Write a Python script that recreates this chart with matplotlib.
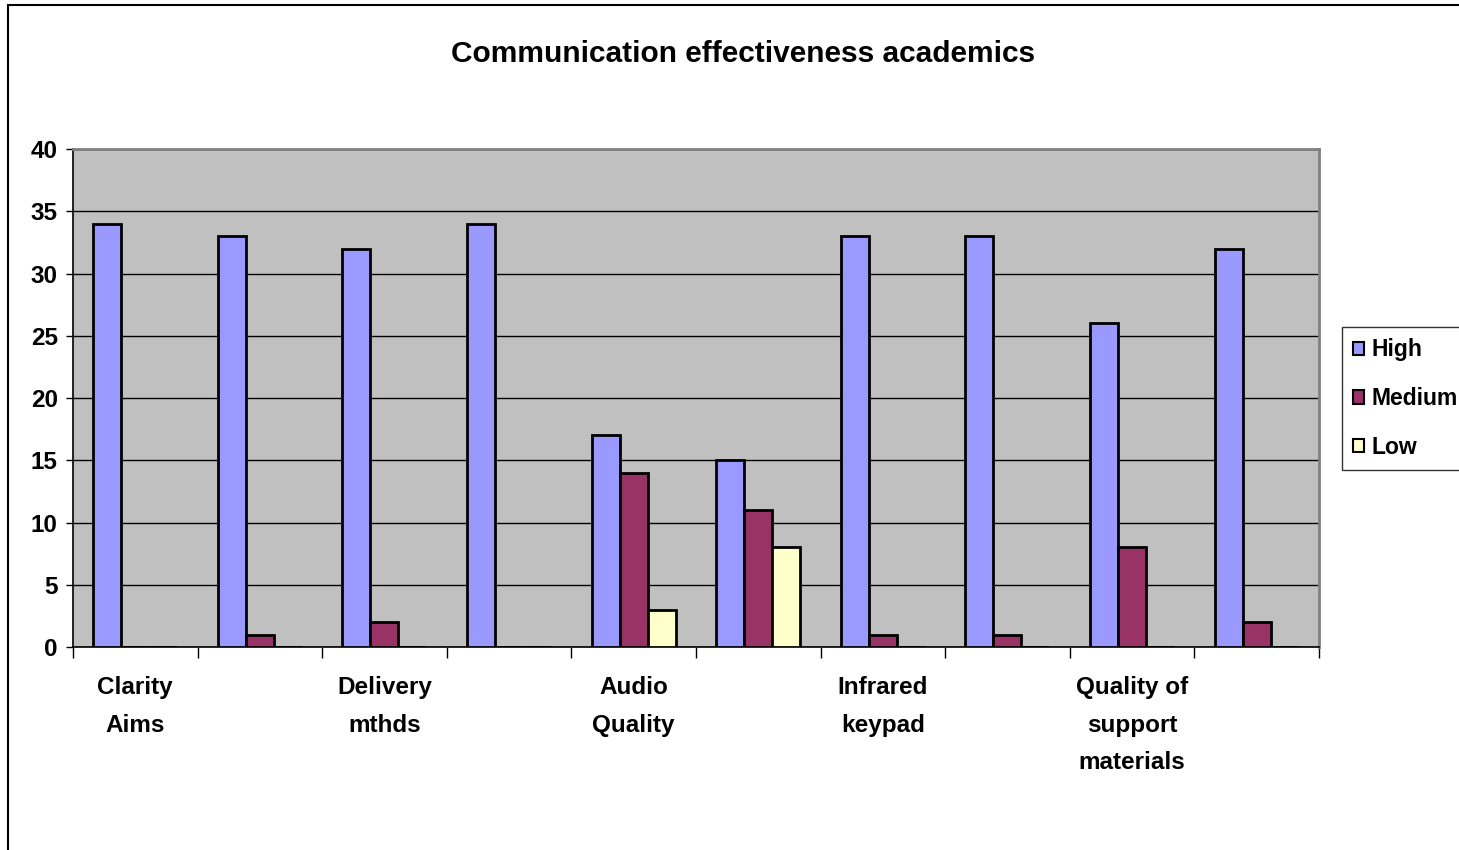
import matplotlib.pyplot as plt
import numpy as np
from matplotlib.patches import Rectangle

plt.rcParams['font.family'] = ['Liberation Sans', 'DejaVu Sans']
plt.rcParams['font.weight'] = 'bold'

# only every other category label is shown on the chart
labels = ["Clarity\nAims", "", "Delivery\nmthds", "", "Audio\nQuality", "",
          "Infrared\nkeypad", "", "Quality of\nsupport\nmaterials", ""]
high = [34, 33, 32, 34, 17, 15, 33, 33, 26, 32]
medium = [0, 1, 2, 0, 14, 11, 1, 1, 8, 2]
low = [0, 0, 0, 0, 3, 8, 0, 0, 0, 0]

fig = plt.figure(figsize=(14.59, 8.5), dpi=100)
ax = fig.add_axes([0.050, 0.2388, 0.854, 0.5859])

x = np.arange(len(labels))
w = 0.225
ax.bar(x - w, high, w, color="#9999FF", edgecolor="black", linewidth=2, label="High", zorder=3)
ax.bar(x, medium, w, color="#993366", edgecolor="black", linewidth=2, label="Medium", zorder=3)
ax.bar(x + w, low, w, color="#FFFFCC", edgecolor="black", linewidth=2, label="Low", zorder=3)

ax.set_facecolor("#C0C0C0")
ax.set_xlim(-0.5, len(labels) - 0.5)
ax.set_ylim(0, 40)
ax.set_yticks(range(0, 41, 5))
ax.yaxis.grid(True, color="black", linewidth=1, zorder=0)

ax.set_xticks(np.arange(-0.5, len(labels), 1))
ax.set_xticklabels([])
ax.set_xticks(x, minor=True)
ax.set_xticklabels(labels, minor=True, fontsize=17.5, fontweight="bold", linespacing=1.8)
ax.tick_params(axis="x", which="major", length=8, width=1, direction="out")
ax.tick_params(axis="x", which="minor", length=0, pad=21)
ax.tick_params(axis="y", length=5, width=1, labelsize=17.5, pad=6)
for t in ax.get_yticklabels():
    t.set_fontweight("bold")

for s in ["top", "right"]:
    ax.spines[s].set_color("#808080")
    ax.spines[s].set_linewidth(2)
for s in ["left", "bottom"]:
    ax.spines[s].set_color("black")
    ax.spines[s].set_linewidth(1.2)

fig.text(0.509, 0.937, "Communication effectiveness academics", ha="center", va="center",
         fontsize=21.5, fontweight="bold")

leg = fig.legend(loc="upper left", bbox_to_anchor=(0.9195, 0.6153), fontsize=16.5,
                 frameon=True, fancybox=False, edgecolor="black", handlelength=0.5,
                 handleheight=0.5, handletextpad=0.3, labelspacing=1.12, borderpad=0.5,
                 borderaxespad=0)
leg.get_frame().set_linewidth(1)
for h in leg.legend_handles:
    h.set_linewidth(1.5)

fig.patches.append(Rectangle((0.0055, -0.05), 1.2, 0.9941 + 0.05, transform=fig.transFigure,
                             fill=False, edgecolor="black", linewidth=1.5))

fig.savefig("out.png", dpi=100)
